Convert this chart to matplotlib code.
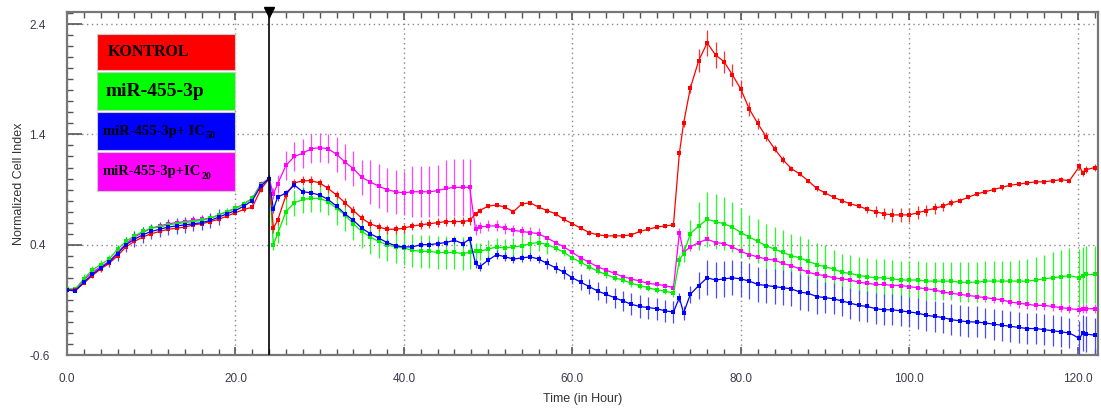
import matplotlib
matplotlib.use("Agg")
import matplotlib.pyplot as plt
from matplotlib.patches import Rectangle
from matplotlib.ticker import MultipleLocator, FixedLocator

# ---------------- data ----------------
time_h = ([float(t) for t in range(0, 25)] + [24.5] + [float(t) for t in range(25, 48)] + [47.8]
          + [48.5] + [float(t) for t in range(49, 73)]
          + [72.7, 73.2] + [float(t) for t in range(74, 120)] + [120.2, 120.6, 121.0, 122.0])

kontrol = [
    -0.01, -0.01, 0.05, 0.12, 0.18, 0.23, 0.30, 0.38, 0.43, 0.47, 0.50, 0.52, 0.54, 0.55, 0.56, 0.58,
    0.59, 0.61, 0.63, 0.66, 0.69, 0.72, 0.74, 0.90, 1.00,
    0.55, 0.62, 0.85, 0.96, 0.98, 0.98, 0.96, 0.91, 0.85, 0.78, 0.71, 0.64, 0.59, 0.56, 0.54, 0.54,
    0.55, 0.57, 0.58, 0.59, 0.60, 0.61, 0.61, 0.61, 0.62,
    0.68, 0.71, 0.75, 0.76, 0.74, 0.70, 0.77, 0.78, 0.74, 0.71, 0.68, 0.63, 0.59, 0.55, 0.51, 0.49,
    0.48, 0.48, 0.48, 0.49, 0.52, 0.54, 0.56, 0.57, 0.58,
    1.23, 1.50, 1.82, 2.07, 2.23, 2.12, 2.06, 1.94, 1.81, 1.63, 1.50, 1.38, 1.27, 1.17, 1.09, 1.04,
    0.98, 0.91, 0.87, 0.83, 0.80, 0.77, 0.75, 0.72, 0.70, 0.68, 0.67, 0.67, 0.67, 0.69, 0.71, 0.73,
    0.75, 0.78, 0.80, 0.83, 0.86, 0.88, 0.90, 0.92, 0.94, 0.95, 0.96, 0.97, 0.97, 0.98, 0.99, 0.98,
    1.11, 1.05, 1.08, 1.10]

mir455 = [
    0.00, 0.00, 0.09, 0.17, 0.22, 0.27, 0.36, 0.43, 0.48, 0.52, 0.55, 0.56, 0.58, 0.59, 0.60, 0.61,
    0.62, 0.64, 0.67, 0.70, 0.73, 0.77, 0.82, 0.94, 1.00,
    0.40, 0.50, 0.70, 0.78, 0.81, 0.82, 0.82, 0.79, 0.73, 0.67, 0.59, 0.52, 0.47, 0.43, 0.40, 0.38,
    0.37, 0.35, 0.34, 0.34, 0.33, 0.33, 0.33, 0.32, 0.33,
    0.34, 0.34, 0.36, 0.38, 0.37, 0.38, 0.39, 0.41, 0.42, 0.40, 0.37, 0.33, 0.28, 0.24, 0.20, 0.16,
    0.13, 0.10, 0.08, 0.05, 0.03, 0.01, -0.01, -0.02, -0.04,
    0.26, 0.32, 0.50, 0.57, 0.63, 0.61, 0.59, 0.56, 0.51, 0.47, 0.43, 0.39, 0.36, 0.33, 0.30, 0.28,
    0.25, 0.22, 0.20, 0.18, 0.15, 0.14, 0.12, 0.11, 0.10, 0.10, 0.09, 0.08, 0.08, 0.08, 0.07, 0.07,
    0.07, 0.07, 0.06, 0.06, 0.06, 0.07, 0.07, 0.07, 0.07, 0.07, 0.07, 0.08, 0.09, 0.10, 0.11, 0.12,
    0.10, 0.12, 0.13, 0.13]

mir_ic50 = [
    -0.01, -0.02, 0.06, 0.13, 0.19, 0.24, 0.32, 0.40, 0.45, 0.49, 0.52, 0.54, 0.56, 0.57, 0.58, 0.59,
    0.60, 0.62, 0.65, 0.68, 0.71, 0.75, 0.80, 0.93, 1.00,
    0.72, 0.83, 0.87, 0.94, 0.88, 0.87, 0.85, 0.81, 0.75, 0.68, 0.62, 0.55, 0.50, 0.46, 0.42, 0.39,
    0.38, 0.38, 0.40, 0.40, 0.41, 0.42, 0.44, 0.41, 0.45,
    0.23, 0.20, 0.26, 0.31, 0.29, 0.27, 0.28, 0.29, 0.27, 0.23, 0.19, 0.15, 0.10, 0.06, 0.02, -0.02,
    -0.05, -0.08, -0.11, -0.14, -0.16, -0.17, -0.18, -0.20, -0.21,
    -0.08, -0.22, -0.05, 0.03, 0.10, 0.08, 0.09, 0.10, 0.09, 0.07, 0.04, 0.03, 0.02, 0.01, 0.00, -0.03,
    -0.04, -0.07, -0.08, -0.09, -0.11, -0.13, -0.15, -0.16, -0.18, -0.19, -0.19, -0.20, -0.21, -0.22,
    -0.24, -0.25, -0.26, -0.28, -0.29, -0.30, -0.30, -0.31, -0.32, -0.33, -0.34, -0.35, -0.36, -0.36,
    -0.37, -0.38, -0.39, -0.40,
    -0.45, -0.40, -0.41, -0.42]

mir_ic20 = [
    -0.01, -0.01, 0.08, 0.15, 0.20, 0.25, 0.33, 0.41, 0.47, 0.51, 0.55, 0.57, 0.59, 0.60, 0.61, 0.62,
    0.63, 0.64, 0.67, 0.70, 0.73, 0.77, 0.82, 0.95, 1.00,
    0.86, 0.95, 1.12, 1.20, 1.23, 1.27, 1.28, 1.27, 1.22, 1.15, 1.09, 1.01, 0.97, 0.93, 0.90, 0.88,
    0.87, 0.88, 0.88, 0.88, 0.89, 0.91, 0.92, 0.92, 0.92,
    0.54, 0.56, 0.57, 0.57, 0.55, 0.53, 0.52, 0.51, 0.50, 0.46, 0.42, 0.38, 0.33, 0.28, 0.24, 0.20,
    0.17, 0.14, 0.11, 0.09, 0.07, 0.05, 0.04, 0.03, 0.01,
    0.51, 0.33, 0.38, 0.42, 0.45, 0.42, 0.41, 0.38, 0.34, 0.31, 0.29, 0.27, 0.26, 0.23, 0.21, 0.18,
    0.15, 0.13, 0.12, 0.10, 0.09, 0.08, 0.06, 0.05, 0.04, 0.04, 0.03, 0.03, 0.02, 0.01, 0.00, -0.01,
    -0.03, -0.04, -0.05, -0.06, -0.07, -0.08, -0.09, -0.10, -0.12, -0.13, -0.14, -0.15, -0.15, -0.16,
    -0.17, -0.18,
    -0.19, -0.18, -0.18, -0.18]

# standard deviations (error bar half-lengths)
kontrol_err = (
    [0.01] * 3 + [0.02] * 22
    + [0.04] * 25
    + [0.02] * 25
    + [0.03, 0.03, 0.04, 0.10, 0.12, 0.12, 0.10, 0.10, 0.08, 0.06, 0.05, 0.04, 0.03, 0.03]
    + [0.02] * 9 + [0.03, 0.05, 0.05, 0.06, 0.06, 0.06, 0.06, 0.05, 0.05, 0.04, 0.03]
    + [0.02] * 14 + [0.03, 0.03, 0.03, 0.03])

mir455_err = (
    [0.01] * 2 + [0.04] * 8 + [0.03] * 15
    + [0.05, 0.08] + [0.12] * 6 + [0.15] * 17
    + [0.08] * 10 + [0.03] * 15
    + [0.05, 0.08, 0.12, 0.22, 0.25, 0.25, 0.24, 0.23, 0.22] + [0.20] * 10 + [0.17] * 15
    + [0.18] * 7 + [0.19, 0.20, 0.21, 0.22, 0.23, 0.24, 0.25] + [0.26] * 4)

mir_ic50_err = (
    [0.01] * 4 + [0.04] * 2 + [0.07] * 13 + [0.03] * 6
    + [0.03] * 25
    + [0.04] * 9 + [0.05, 0.05, 0.06, 0.06, 0.07, 0.07, 0.08, 0.08, 0.09, 0.09, 0.10, 0.10, 0.10, 0.10, 0.10, 0.10]
    + [0.04, 0.06, 0.08, 0.12] + [0.16] * 14 + [0.14] * 30 + [0.16] * 4)

mir_ic20_err = (
    [0.01] * 3 + [0.03] * 22
    + [0.05, 0.08] + [0.13] * 6 + [0.16] * 4 + [0.20] * 5 + [0.23] * 4 + [0.26] * 4
    + [0.05] * 9 + [0.02] * 16
    + [0.04] * 52)

label_main = ["KONTROL", "miR-455-3p", "miR-455-3p+ IC", "miR-455-3p+IC"]
label_sub = ["", "", "50", "20"]
colors = ["#ff0000", "#00ee00", "#0000ff", "#ff00ff"]
err_colors = ["#ff3030", "#22ff22", "#4a4aff", "#ff44ff"]
box_colors = ["#ff0000", "#00ff00", "#0000ff", "#ff00ff"]
x_ticks = [0, 20, 40, 60, 80, 100, 120]
x_tick_labels = ["0.0", "20.0", "40.0", "60.0", "80.0", "100.0", "120.0"]
y_ticks = [-0.6, 0.4, 1.4, 2.4]
y_tick_labels = ["-0.6", "0.4", "1.4", "2.4"]
treatment_time = 24.0

# ---------------- figure ----------------
plt.rcParams['font.family'] = ['Liberation Sans', 'DejaVu Sans']

W, H = 1101, 415
fig = plt.figure(figsize=(W / 100, H / 100), dpi=100)
ax = fig.add_axes([67 / W, 1 - 355 / H, (1098 - 67) / W, (355 - 12) / H])

series = [
    (mir_ic20, mir_ic20_err, colors[3], err_colors[3]),
    (mir455, mir455_err, colors[1], err_colors[1]),
    (kontrol, kontrol_err, colors[0], err_colors[0]),
    (mir_ic50, mir_ic50_err, colors[2], err_colors[2]),
]
for vals, errs, c, ec in series:
    ax.errorbar(time_h, vals, yerr=errs, color=c, ecolor=ec, lw=0.9, elinewidth=0.9, capsize=1.5,
                capthick=0.8, marker='s', markersize=3.4, markeredgewidth=0, zorder=3)

ax.set_xlim(0, 122.4)
ax.set_ylim(-0.6, 2.51)

ax.axvline(treatment_time, color='black', lw=1.2, zorder=5)
ax.plot([treatment_time], [2.51], marker='v', color='black', markersize=7, clip_on=False, zorder=6)

ax.xaxis.set_major_locator(FixedLocator(x_ticks))
ax.set_xticklabels(x_tick_labels)
ax.xaxis.set_minor_locator(MultipleLocator(2))
ax.yaxis.set_major_locator(FixedLocator(y_ticks))
ax.set_yticklabels(y_tick_labels)
ax.yaxis.set_minor_locator(MultipleLocator(0.1))

ax.grid(True, which='major', color='#888888', linestyle=(0, (1, 2.5)), lw=1.0)

ax.tick_params(axis='x', which='both', direction='in', top=True, bottom=True, colors='#555555',
               labelcolor='#3a3a4a', labelsize=8.5)
ax.tick_params(axis='x', which='major', length=6, width=1.2, pad=13)
ax.tick_params(axis='x', which='minor', length=4, width=1.0)
ax.tick_params(axis='y', which='both', direction='in', left=True, right=False, colors='#555555',
               labelcolor='#3a3a4a', labelsize=8.5)
ax.tick_params(axis='y', which='major', length=11, width=1.2, pad=27)
ax.tick_params(axis='y', which='minor', length=4, width=1.0)
for lbl in ax.get_yticklabels():
    lbl.set_horizontalalignment('left')

for s in ax.spines.values():
    s.set_color('#777777')
    s.set_linewidth(1.6)

ax.set_xlabel("Time (in Hour)", fontsize=9, color='#333333', labelpad=6)
ax.set_ylabel("Normalized Cell Index", fontsize=9, color='#333333', labelpad=4)
ax.yaxis.set_label_coords(-42 / (1098 - 67), 0.5)

# legend boxes (figure pixel positions)
boxes = [(34, 70), (72, 110), (112, 150), (152, 191)]
font_sizes = [11.5, 14, 10.5, 10.5]
text_x = [108, 105, 103, 103]
renderer = fig.canvas.get_renderer()
for (y0, y1), lab, sub, c, fs, tx in zip(boxes, label_main, label_sub, box_colors, font_sizes, text_x):
    rect = Rectangle((97 / W, 1 - y1 / H), 138 / W, (y1 - y0) / H, transform=fig.transFigure,
                     facecolor=c, edgecolor='#cccccc', lw=0.8, zorder=10)
    fig.add_artist(rect)
    yc = 1 - (y0 + y1) / 2 / H
    t = fig.text(tx / W, yc, lab, fontsize=fs, fontweight='bold',
                 family='Liberation Serif', color='black', va='center', ha='left', zorder=11)
    if sub:
        bb = t.get_window_extent(renderer=renderer)
        fig.text((bb.x1 + 0.5) / W, yc - 5 / H, sub, fontsize=fs * 0.68, fontweight='bold',
                 family='Liberation Serif', color='black', va='center', ha='left', zorder=11)

fig.savefig("out.png", dpi=100)
